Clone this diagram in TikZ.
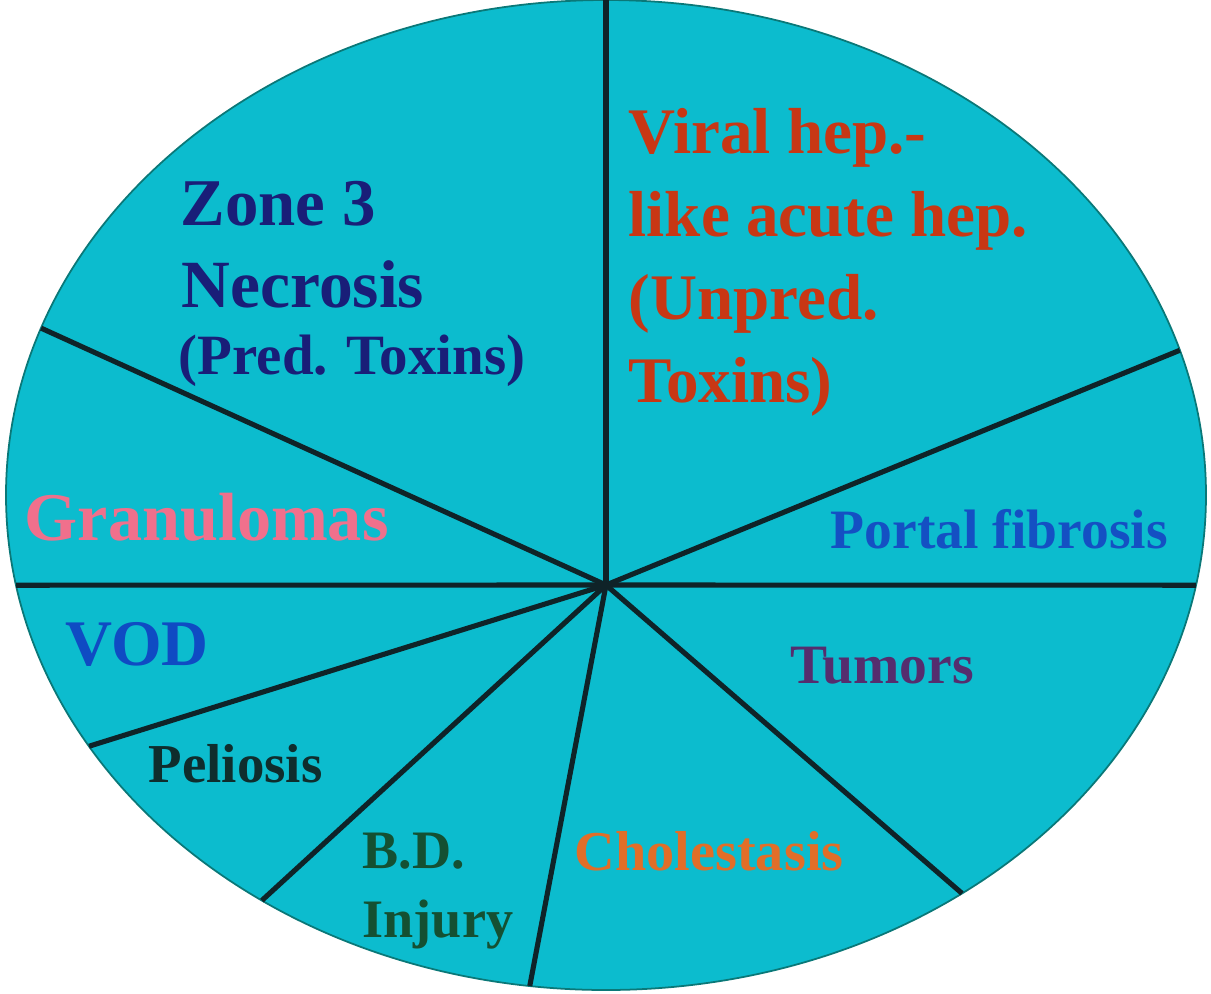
\documentclass[tikz,border=0pt]{standalone}
\usepackage{fontspec}
\setmainfont{Liberation Serif}
\usetikzlibrary{calc}
\definecolor{piefill}{RGB}{12,188,206}
\definecolor{pieedge}{RGB}{10,120,120}
\definecolor{spokecol}{RGB}{15,35,40}
\definecolor{zonecol}{RGB}{25,30,120}
\definecolor{viralcol}{RGB}{200,55,20}
\definecolor{granucol}{RGB}{240,112,140}
\definecolor{vodcol}{RGB}{15,75,195}
\definecolor{portalcol}{RGB}{20,80,195}
\definecolor{tumorcol}{RGB}{85,45,110}
\definecolor{peliocol}{RGB}{15,45,45}
\definecolor{bdcol}{RGB}{20,80,50}
\definecolor{cholecol}{RGB}{225,110,40}

\begin{document}
\begin{tikzpicture}[x=0.01cm, y=-0.01cm,
    txt/.style={inner sep=0pt, anchor=base west, font=\bfseries\fontsize{#1}{#1}\selectfont},
    spoke/.style={line width=1.45pt, draw=spokecol}]
\useasboundingbox (0,0) rectangle (1211,993);
\coordinate (c) at (606,495);
\coordinate (hub) at (606,585);
\fill[piefill, draw=pieedge, line width=0.5pt] (c) ellipse [x radius=600, y radius=495];

% spokes from the hub to the rim
\foreach \t [count=\i] in {-90,-17,10.5,53.6,97.3,125,149.5,169.5,-160.3}{
  \coordinate (rim\i) at ($(c)+(\t:600 and 495)$);
  \draw[spoke] (hub) -- (rim\i);
}

\node[txt=19, text=zonecol] (zone1) at (180,225) {Zone 3};
\node[txt=19.2, text=zonecol] (zone2) at (181,307) {Necrosis};
\node[txt=16.2, text=zonecol] (zone3) at (178,374) {(Pred. Toxins)};

\foreach \s [count=\i] in {{Viral hep.-},{like acute hep.},{(Unpred.},{Toxins)}}
  \node[txt=18.5, text=viralcol] (viral\i) at (628,{153+83*(\i-1)}) {\s};

\node[txt=19.4, text=granucol] (granu) at (24,540) {Granulomas};
\node[txt=18.5, text=vodcol] (vod) at (65,665) {VOD};
\node[txt=15.8, text=portalcol] (portal) at (830,548) {Portal fibrosis};
\node[txt=15.8, text=tumorcol] (tumor) at (790,683) {Tumors};
\node[txt=15.6, text=peliocol] (pelio) at (148,782) {Peliosis};
\node[txt=15.4, text=bdcol] (bd1) at (362,868) {B.D.};
\node[txt=15.4, text=bdcol] (bd2) at (362,937) {Injury};
\node[txt=16, text=cholecol] (chole) at (574,870) {Cholestasis};
\end{tikzpicture}
\end{document}
